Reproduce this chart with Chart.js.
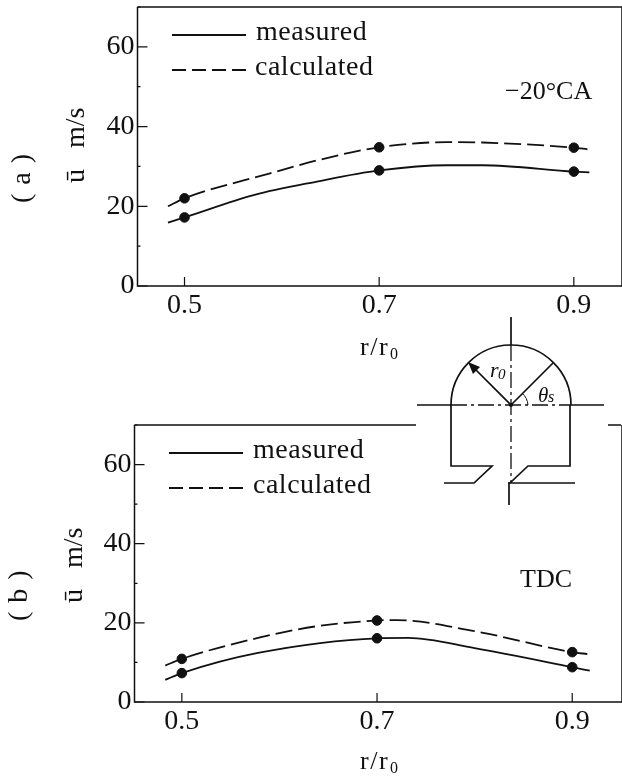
<!DOCTYPE html>
<html>
<head>
<meta charset="utf-8">
<script src="https://cdn.jsdelivr.net/npm/chart.js@4"></script>
<style>
  html, body { margin: 0; padding: 0; background: #fff; }
  #page { position: relative; width: 622px; height: 776px; overflow: hidden; }
  canvas { position: absolute; left: 0; }
  #inset { position: absolute; left: 0; top: 0; }
</style>
</head>
<body>
<div id="page">
  <canvas id="chartA" width="622" height="372" style="top:0"></canvas>
  <canvas id="chartB" width="622" height="376" style="top:400px"></canvas>
  <svg id="inset" width="622" height="776" fill="none" stroke="#111" stroke-width="1.7">
    <path d="M511 317V345M417 405H451M570 405H604M509 482V505"/>
    <path d="M511 345V482M451 405H570" stroke-dasharray="16 4 3 4" stroke-width="1.3"/>
    <path d="M451 405A60 60 0 0 1 571 405"/>
    <path d="M451 405V466H492L474 483H444"/>
    <path d="M570 405V466H528L510 483H575"/>
    <path d="M511 405L472 366M511 405L553 363"/>
    <path d="M528 405A18 18 0 0 0 522 393" stroke-width="1"/>
    <path d="M468 362L480 367L473 374Z" fill="#111" stroke="none"/>
    <circle cx="511" cy="405" r="2" fill="#111" stroke="none"/>
    <g font-family="'Liberation Serif'" font-style="italic" fill="#111" stroke="none">
      <text x="490" y="377" font-size="22">r</text>
      <text x="498" y="379" font-size="15">0</text>
      <text x="538" y="402" font-size="21">θ</text>
      <text x="548" y="402" font-size="16">s</text>
    </g>
  </svg>
</div>
<script>
  const xTicks = [0.5, 0.7, 0.9];
  const yTicks = [0, 10, 20, 30, 40, 50, 60, 70];
  const yLabels = [0, 20, 40, 60];
  const dotX = [0.5, 0.7, 0.9];

  // (a) -20 deg CA
  const measuredAx = [0.483, 0.5, 0.571, 0.636, 0.7, 0.77, 0.806, 0.9, 0.916];
  const measuredAy = [15.9, 17.2, 22.8, 26.2, 29, 30.3, 30.3, 28.7, 28.5];
  const calculatedAx = [0.483, 0.5, 0.587, 0.636, 0.7, 0.77, 0.806, 0.9, 0.914];
  const calculatedAy = [20, 22, 28.2, 31.5, 34.8, 36.1, 36, 34.7, 34.3];
  const dotsMeasuredA = [17.2, 29, 28.7];
  const dotsCalculatedA = [22, 34.8, 34.7];

  // (b) TDC
  const measuredBx = [0.483, 0.5, 0.578, 0.7, 0.732, 0.8, 0.9, 0.918];
  const measuredBy = [5.6, 7.3, 12.4, 16.1, 16.2, 13.6, 8.8, 7.9];
  const calculatedBx = [0.483, 0.5, 0.578, 0.637, 0.7, 0.72, 0.8, 0.9, 0.916];
  const calculatedBy = [9.2, 10.9, 16.2, 19.1, 20.6, 20.7, 17.9, 12.6, 12.1];
  const dotsMeasuredB = [7.3, 16.1, 8.8];
  const dotsCalculatedB = [10.9, 20.6, 12.6];

  const INK = "#111";
  const SERIF = "'Liberation Serif'";

  function toPoints(xs, ys) {
    return xs.map((x, i) => ({ x: x, y: ys[i] }));
  }

  function curve(label, xs, ys, dash) {
    return {
      label: label,
      data: toPoints(xs, ys),
      showLine: true,
      borderColor: INK,
      borderWidth: 1.8,
      borderDash: dash,
      cubicInterpolationMode: "monotone",
      pointRadius: 0
    };
  }

  function dots(ys) {
    return {
      data: toPoints(dotX, ys),
      showLine: false,
      pointRadius: 4.8,
      backgroundColor: INK,
      borderColor: INK
    };
  }

  function drawText(ctx, text, x, y, size, spacing) {
    ctx.font = size + "px " + SERIF;
    ctx.letterSpacing = (spacing || 0) + "px";
    ctx.fillText(text, x, y);
    ctx.letterSpacing = "0px";
  }

  // frame, inward ticks, legend, and the notes around each panel
  const panelPlugin = {
    id: "panel",
    afterDatasetsDraw(chart, args, opts) {
      const ctx = chart.ctx;
      const area = chart.chartArea;
      const xs = chart.scales.x;
      const ys = chart.scales.y;
      ctx.save();
      ctx.strokeStyle = INK;
      ctx.fillStyle = INK;
      ctx.textAlign = "left";
      ctx.textBaseline = "alphabetic";

      ctx.lineWidth = 1.5;
      ctx.beginPath();
      ctx.moveTo(area.left, area.top);
      ctx.lineTo(area.left, area.bottom);
      ctx.lineTo(area.right, area.bottom);
      ctx.lineTo(area.right, area.top);
      opts.topSegments.forEach(seg => {
        ctx.moveTo(seg[0], area.top);
        ctx.lineTo(seg[1], area.top);
      });
      ctx.stroke();

      ctx.lineWidth = 1.2;
      ctx.beginPath();
      xTicks.forEach(v => {
        const px = xs.getPixelForValue(v);
        ctx.moveTo(px, area.bottom);
        ctx.lineTo(px, area.bottom - 9);
      });
      yTicks.forEach(v => {
        const py = ys.getPixelForValue(v);
        ctx.moveTo(area.left, py);
        ctx.lineTo(area.left + (yLabels.includes(v) ? 10 : 3), py);
      });
      ctx.stroke();

      // legend rows use the dataset's own label and dash
      opts.legendRows.forEach(row => {
        const ds = chart.data.datasets[row.dataset];
        ctx.lineWidth = 1.8;
        ctx.setLineDash(row.dash);
        ctx.beginPath();
        ctx.moveTo(row.x0, row.lineY);
        ctx.lineTo(row.x0 + 74, row.lineY);
        ctx.stroke();
        ctx.setLineDash([]);
        drawText(ctx, ds.label, row.textX, row.textY, 28, 0.5);
      });

      drawText(ctx, opts.note, opts.noteX, opts.noteY, 26, 0);

      // r/r0 under the axis
      drawText(ctx, "r/r", opts.rX, opts.rY, 26, 1.5);
      drawText(ctx, "0", opts.rX + 30, opts.rY + 4, 16, 0);

      // rotated side labels
      ctx.save();
      ctx.translate(opts.sideX, opts.sideY);
      ctx.rotate(-Math.PI / 2);
      drawText(ctx, "ū   m/s", 0, 0, 28, 0);
      ctx.restore();
      ctx.save();
      ctx.translate(opts.tagX, opts.tagY);
      ctx.rotate(-Math.PI / 2);
      drawText(ctx, "( " + opts.tag + " )", 0, 0, 28, 1);
      ctx.restore();

      ctx.restore();
    }
  };

  function makeChart(id, datasets, cfg, panel) {
    return new Chart(document.getElementById(id), {
      type: "scatter",
      data: { datasets: datasets },
      plugins: [panelPlugin],
      options: {
        responsive: false,
        animation: false,
        layout: { autoPadding: false, padding: { top: cfg.top, right: 0, bottom: 0, left: 0 } },
        plugins: {
          legend: { display: false },
          tooltip: { enabled: false },
          panel: panel
        },
        scales: {
          x: {
            type: "linear",
            min: cfg.xMin,
            max: cfg.xMax,
            grid: { display: false, tickLength: 0 },
            border: { display: false },
            afterFit: s => { s.height = cfg.xHeight; s.paddingLeft = 0; s.paddingRight = 0; },
            afterBuildTicks: s => { s.ticks = xTicks.map(v => ({ value: v })); },
            ticks: {
              color: INK,
              padding: 3,
              maxRotation: 0,
              autoSkip: false,
              font: { family: SERIF, size: 28 },
              callback: v => Number(v).toFixed(1)
            }
          },
          y: {
            min: 0,
            max: 70,
            grid: { display: false, tickLength: 0 },
            border: { display: false },
            afterFit: s => { s.width = cfg.left; s.paddingTop = 0; s.paddingBottom = 0; },
            afterBuildTicks: s => { s.ticks = yTicks.map(v => ({ value: v })); },
            ticks: {
              color: INK,
              padding: 3,
              autoSkip: false,
              font: { family: SERIF, size: 28 },
              callback: v => yLabels.includes(v) ? String(v) : ""
            }
          }
        }
      }
    });
  }

  const SOLID = [];
  const DASHED = [17, 6];
  const LEGEND_DASH = [14, 6];

  makeChart("chartA", [
    curve("measured", measuredAx, measuredAy, SOLID),
    curve("calculated", calculatedAx, calculatedAy, DASHED),
    dots(dotsMeasuredA),
    dots(dotsCalculatedA)
  ], { top: 7, left: 137.5, xHeight: 86, xMin: 0.4517, xMax: 0.9495 }, {
    topSegments: [[137.5, 622]],
    legendRows: [
      { dataset: 0, dash: SOLID, x0: 172, lineY: 35, textX: 256, textY: 40 },
      { dataset: 1, dash: LEGEND_DASH, x0: 172, lineY: 70, textX: 255, textY: 75 }
    ],
    note: "−20°CA", noteX: 505, noteY: 99,
    rX: 360, rY: 355,
    sideX: 84, sideY: 183,
    tag: "a", tagX: 30, tagY: 203
  });

  makeChart("chartB", [
    curve("measured", measuredBx, measuredBy, SOLID),
    curve("calculated", calculatedBx, calculatedBy, DASHED),
    dots(dotsMeasuredB),
    dots(dotsCalculatedB)
  ], { top: 25, left: 134.5, xHeight: 74, xMin: 0.4515, xMax: 0.951 }, {
    topSegments: [[134.5, 416], [608, 621]],
    legendRows: [
      { dataset: 0, dash: SOLID, x0: 169, lineY: 53, textX: 253, textY: 58 },
      { dataset: 1, dash: LEGEND_DASH, x0: 169, lineY: 88, textX: 253, textY: 93 }
    ],
    note: "TDC", noteX: 520, noteY: 187,
    rX: 360, rY: 369,
    sideX: 82, sideY: 203,
    tag: "b", tagX: 27, tagY: 221
  });
</script>
</body>
</html>
